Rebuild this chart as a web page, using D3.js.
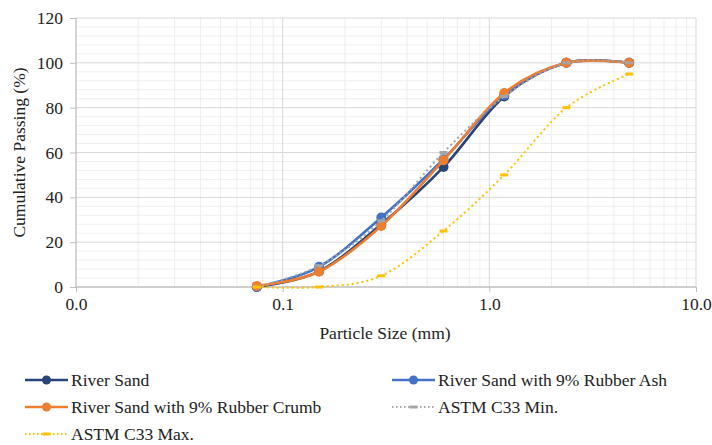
<!DOCTYPE html>
<html><head><meta charset="utf-8">
<script src="https://cdn.jsdelivr.net/npm/d3@7"></script>
</head><body><svg id="c" width="712" height="445"></svg>
<script>
const sieveSizes = [0.075, 0.15, 0.3, 0.6, 1.18, 2.36, 4.75];
const riverSand = [0, 7, 28, 53.5, 85, 100, 100];
const rubberAsh = [0, 9, 31, 57, 85.5, 100, 100];
const rubberCrumb = [0.5, 6.8, 27.2, 56.5, 86.5, 100, 100];
const astmMin = [0, 9.5, 29.5, 60, 85, 100, 100];
const astmMax = [0, 0, 5, 25, 50, 80, 95];
const xTicks = [0.01, 0.1, 1, 10];
const yTicks = [0, 20, 40, 60, 80, 100, 120];
const seriesNames = ["River Sand", "River Sand with 9% Rubber Ash", "River Sand with 9% Rubber Crumb", "ASTM C33 Min.", "ASTM C33 Max."];

const FONT = '"Liberation Serif", "Times New Roman", serif';
const FS = 17.5;
const series = [
  {name: seriesNames[0], vals: riverSand, color: "#264478", type: "solid"},
  {name: seriesNames[1], vals: rubberAsh, color: "#4472C4", type: "solid"},
  {name: seriesNames[2], vals: rubberCrumb, color: "#ED7D31", type: "solid"},
  {name: seriesNames[3], vals: astmMin, color: "#A5A5A5", type: "dot"},
  {name: seriesNames[4], vals: astmMax, color: "#FFC000", type: "dot"}
];

document.body.style.margin = "0";
const svg = d3.select("#c").style("display", "block");
const L = 76, R = 696, T = 18, B = 287;
const x = d3.scaleLog().domain([0.01, 10]).range([L, R]);
const y = d3.scaleLinear().domain([0, 120]).range([B, T]);

const g = svg.append("g");
const minorX = [];
[0.01, 0.1, 1].forEach(d => { for (let k = 2; k <= 9; k++) minorX.push(d * k); });
g.selectAll(".mx").data(minorX).enter().append("line")
  .attr("x1", d => x(d)).attr("x2", d => x(d)).attr("y1", T).attr("y2", B)
  .attr("stroke", "#efefef").attr("stroke-width", 1);
const minorY = d3.range(0, 121, 4).filter(v => v % 20 !== 0);
g.selectAll(".my").data(minorY).enter().append("line")
  .attr("x1", L).attr("x2", R).attr("y1", d => y(d)).attr("y2", d => y(d))
  .attr("stroke", "#efefef").attr("stroke-width", 1);
g.selectAll(".Mx").data(xTicks.slice(1)).enter().append("line")
  .attr("x1", d => x(d)).attr("x2", d => x(d)).attr("y1", T).attr("y2", B)
  .attr("stroke", "#d9d9d9").attr("stroke-width", 1);
g.selectAll(".My").data(yTicks.slice(1)).enter().append("line")
  .attr("x1", L).attr("x2", R).attr("y1", d => y(d)).attr("y2", d => y(d))
  .attr("stroke", "#d9d9d9").attr("stroke-width", 1);

const xAxis = d3.axisBottom(x).tickValues(xTicks).tickFormat(d3.format(".1f")).tickSize(5).tickPadding(6);
const yAxis = d3.axisLeft(y).tickValues(yTicks).tickSize(6).tickPadding(7);
const xa = svg.append("g").attr("transform", `translate(0,${B})`).call(xAxis);
const ya = svg.append("g").attr("transform", `translate(${L},0)`).call(yAxis);
[xa, ya].forEach(a => {
  a.attr("font-family", null).attr("font-size", null);
  a.select(".domain").attr("stroke", "#bfbfbf").attr("stroke-width", 1.3);
  a.selectAll(".tick line").attr("stroke", "#bfbfbf");
  a.selectAll("text").style("font-family", FONT).attr("font-size", FS).attr("fill", "#222");
});
ya.select(".domain").attr("d", `M0,${T}V${B}`);
xa.select(".domain").attr("d", `M${L},0H${R}`);

svg.append("text").attr("x", 385).attr("y", 339).attr("text-anchor", "middle")
  .style("font-family", FONT).attr("font-size", FS).attr("fill", "#222").text("Particle Size (mm)");
svg.append("text").attr("transform", `translate(25,${(T + B) / 2}) rotate(-90)`)
  .attr("text-anchor", "middle")
  .style("font-family", FONT).attr("font-size", FS).attr("fill", "#222").text("Cumulative Passing (%)");

const line = d3.line().x(d => x(d[0])).y(d => y(d[1])).curve(d3.curveCatmullRom.alpha(0));

series.forEach(s => {
  const pts = sieveSizes.map((v, i) => [v, s.vals[i]]);
  const p = svg.append("path").datum(pts).attr("d", line).attr("fill", "none")
    .attr("stroke", s.color);
  if (s.type === "solid") p.attr("stroke-width", 2.6);
  else p.attr("stroke-width", 2).attr("stroke-dasharray", "2,3");
  if (s.type === "solid") {
    svg.append("g").selectAll("circle").data(pts).enter().append("circle")
      .attr("cx", d => x(d[0])).attr("cy", d => y(d[1])).attr("r", 5).attr("fill", s.color);
  } else {
    svg.append("g").selectAll("rect").data(pts).enter().append("rect")
      .attr("x", d => x(d[0]) - 4).attr("y", d => y(d[1]) - 1.5).attr("width", 8).attr("height", 3)
      .attr("fill", s.color);
  }
});

const legPos = [[25, 380], [392, 380], [25, 407], [392, 407], [25, 434]];
series.forEach((s, i) => {
  const [lx, ly] = legPos[i];
  const lg = svg.append("g").attr("transform", `translate(${lx},${ly})`);
  const ln = lg.append("line").attr("x1", 0).attr("x2", 43).attr("y1", 0).attr("y2", 0).attr("stroke", s.color);
  if (s.type === "solid") {
    ln.attr("stroke-width", 2.6);
    lg.append("circle").attr("cx", 21.5).attr("cy", 0).attr("r", 4.5).attr("fill", s.color);
  } else {
    ln.attr("stroke-width", 1.8).attr("stroke-dasharray", "1.5,2.5");
    lg.append("rect").attr("x", 17.5).attr("y", -1.5).attr("width", 8).attr("height", 3).attr("fill", s.color);
  }
  lg.append("text").attr("x", 46).attr("y", 6)
    .style("font-family", FONT).attr("font-size", FS).attr("fill", "#222").text(s.name);
});
</script></body></html>
